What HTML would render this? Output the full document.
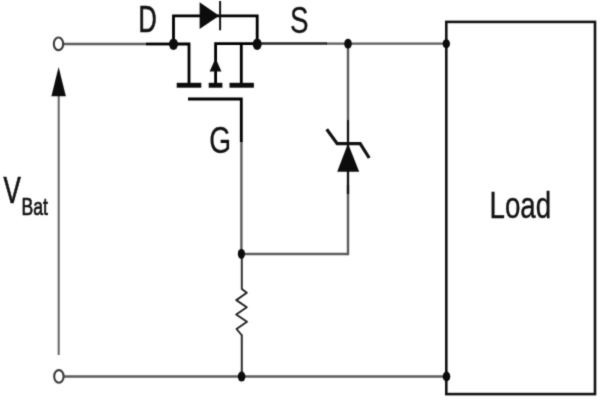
<!DOCTYPE html>
<html><head><meta charset="utf-8"><style>
html,body{margin:0;padding:0;background:#fff;}
body{width:600px;height:400px;overflow:hidden;}
svg{display:block;}
#wrap{width:600px;height:400px;}
.lbl{opacity:0.999;will-change:transform;}
text{font-family:"Liberation Sans",sans-serif;fill:#111;}
</style></head><body>
<div id="wrap"><svg width="600" height="400" viewBox="0 0 600 400" xmlns="http://www.w3.org/2000/svg">
<defs><filter id="bl" color-interpolation-filters="sRGB" x="0" y="0" width="600" height="400" filterUnits="userSpaceOnUse"><feConvolveMatrix order="3" kernelMatrix="0.0225 0.105 0.0225 0.105 0.49 0.105 0.0225 0.105 0.0225" divisor="1" edgeMode="none" color-interpolation-filters="sRGB"/></filter></defs>
<rect x="0" y="0" width="600" height="400" fill="#fff"/>
<g filter="url(#bl)">
<g fill="none" stroke-linecap="butt" stroke-linejoin="miter">
<!-- gray wires -->
<g stroke="#5c5c5c" stroke-width="2.4">
<line x1="63.5" y1="44" x2="146" y2="44"/>
<line x1="326" y1="43.6" x2="446" y2="43.6"/>
<line x1="241.4" y1="141" x2="241.4" y2="254"/>
<line x1="241.4" y1="254" x2="348" y2="254"/>
<line x1="348" y1="44" x2="348" y2="120"/>
<line x1="348" y1="185" x2="348" y2="255.2"/>
<line x1="64" y1="376.5" x2="446" y2="376.5"/>
<line x1="58.7" y1="92" x2="58.7" y2="355" stroke="#6a6a6a" stroke-width="2.1"/>
</g>
<!-- black wires -->
<g stroke="#000" stroke-width="2.8">
<line x1="146" y1="44" x2="174" y2="44"/>
<polyline points="173.5,44 173.5,15.8 257.2,15.8 257.2,44"/>
<polyline points="173.5,44 189,44 189,85"/>
<polyline points="215.6,85 215.6,43.6 257,43.6"/>
<line x1="241.3" y1="43.6" x2="241.3" y2="85"/>
<polyline points="188,99 241.3,99 241.3,142"/>
</g>
<line x1="257" y1="43.5" x2="327" y2="43.5" stroke="#262626" stroke-width="2.5"/>
<line x1="220.1" y1="1" x2="220.1" y2="30.3" stroke="#111" stroke-width="2"/>
<!-- zener -->
<line x1="348" y1="120" x2="348" y2="194" stroke="#111" stroke-width="2.3"/>
<polyline points="326.7,129.3 337.2,143.6 360.2,143.6 369.2,158" stroke="#111" stroke-width="3.2"/>
<!-- resistor -->
<line x1="241.8" y1="254" x2="241.8" y2="289.5" stroke="#333" stroke-width="2"/>
<line x1="241.8" y1="334.5" x2="241.8" y2="376.5" stroke="#333" stroke-width="2.1"/>
<polyline points="241.8,288.9 246.8,292.8 236.3,300.1 246.8,307.3 236.2,314.5 247,321.7 236.5,329 241.6,335" stroke="#222" stroke-width="1.9" stroke-linejoin="round"/>
<!-- box -->
<rect x="446.3" y="21.9" width="148.7" height="372.2" stroke="#111" stroke-width="2.6"/>
<!-- terminals -->
<ellipse cx="58.5" cy="43.8" rx="4.7" ry="6.3" stroke="#3a3a3a" stroke-width="2.1"/>
<ellipse cx="58.9" cy="376.4" rx="4.7" ry="6.3" stroke="#3a3a3a" stroke-width="2.1"/>
</g>
<g fill="#0c0c0c" stroke="none">
<!-- diode -->
<polygon points="199.6,2.2 199.6,29 219.2,15.7"/>
<!-- channel bars -->
<rect x="176.7" y="82.8" width="24.6" height="4.9"/>
<rect x="208.7" y="82.8" width="13.7" height="4.9"/>
<rect x="229.5" y="82.8" width="24.4" height="4.9"/>
<!-- mosfet arrow -->
<polygon points="215.6,58.2 209.6,71.6 221.4,71.6"/>
<!-- zener triangle -->
<polygon points="348,143.5 337.2,171.7 359.2,171.7"/>
<!-- left arrow -->
<polygon points="58.6,67 51.4,96.2 65.9,96.2"/>
<!-- dots -->
<ellipse cx="173.5" cy="44.2" rx="4.5" ry="5.8"/>
<ellipse cx="257.2" cy="44.2" rx="4.5" ry="5.8"/>
<ellipse cx="348" cy="43.7" rx="3.8" ry="5"/>
<ellipse cx="446.3" cy="43.8" rx="3.7" ry="4.6"/>
<ellipse cx="241.4" cy="253.9" rx="3.6" ry="5"/>
<ellipse cx="241.6" cy="376.6" rx="3.8" ry="5"/>
<ellipse cx="446.5" cy="376.5" rx="3.8" ry="5"/>
</g>
<!-- labels -->
<g class="lbl" stroke="#111" stroke-width="0.7">
<text transform="translate(138.5,32) scale(0.68,1)" font-size="37">D</text>
<text transform="translate(289.9,32.8) scale(0.735,1)" font-size="37.8" stroke-width="0.3">S</text>
<text transform="translate(209.2,153.2) scale(0.76,1)" font-size="37" stroke-width="0.25">G</text>
<text transform="translate(3.5,202.5) scale(0.71,1)" font-size="36.5">V</text>
<text transform="translate(21.5,215.3) scale(0.75,1)" font-size="23.5">Bat</text>
<text transform="translate(489.5,218) scale(0.75,1)" font-size="37" stroke-width="0.4">Load</text>
</g>
</g>
</svg></div>
</body></html>
